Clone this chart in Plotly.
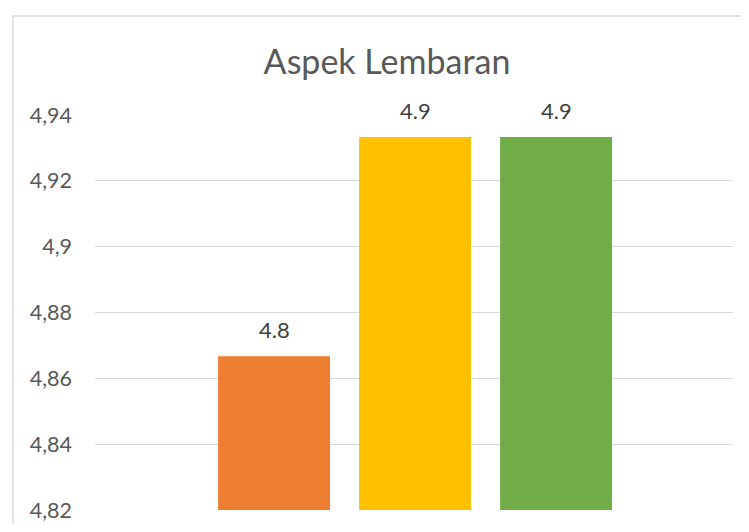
import plotly.graph_objects as go

categories = ["A", "B", "C"]
values = [4.8667, 4.9333, 4.9333]
value_labels = ["4.8", "4.9", "4.9"]
colors = ["#ED7D31", "#FFC000", "#70AD47"]
y_base = 4.82
y_ticks = [4.82, 4.84, 4.86, 4.88, 4.90, 4.92, 4.94]
y_tick_labels = ["4,82", "4,84", "4,86", "4,88", "4,9", "4,92", "4,94"]

FONT = "Lato, Open Sans, sans-serif"

fig = go.Figure()
fig.add_trace(go.Bar(
    x=categories, y=[v - y_base for v in values], base=y_base,
    marker=dict(color=colors, line=dict(width=0)), hoverinfo="skip"))

for c, v, t in zip(categories, values, value_labels):
    fig.add_annotation(x=c, y=v, text=t, showarrow=False, yanchor="bottom",
                       yshift=11, font=dict(family=FONT, size=22, color="#404040"))

# chart-area border (page body has an 8px margin, figure is compensated)
fig.add_shape(type="rect", xref="paper", yref="paper", x0=-0.1285, x1=1.2,
              y0=-0.3, y1=1.2506, line=dict(color="#D9D9D9", width=1.5),
              fillcolor="rgba(0,0,0,0)", layer="below")

fig.update_layout(
    width=733, height=516,
    margin=dict(l=87, r=8, t=107, b=14, autoexpand=False),
    paper_bgcolor="white", plot_bgcolor="white",
    showlegend=False, bargap=0.206,
    title=dict(text="Aspek Lembaran", x=0.4577, xref="paper", xanchor="center",
               y=1 - 54 / 516, yanchor="middle",
               font=dict(family=FONT, size=34, color="#595959")),
    xaxis=dict(range=[-1.27, 3.255], showticklabels=False, showgrid=False,
               zeroline=False, showline=False, fixedrange=True, automargin=False),
    yaxis=dict(range=[4.82, 4.94], tickvals=y_ticks, ticktext=y_tick_labels,
               showgrid=True, gridcolor="#D9D9D9", gridwidth=1, zeroline=False,
               showline=False, ticks="", ticklabelstandoff=22, automargin=False,
               tickfont=dict(family=FONT, size=21.5, color="#595959")),
)

fig.write_html("out.html")
